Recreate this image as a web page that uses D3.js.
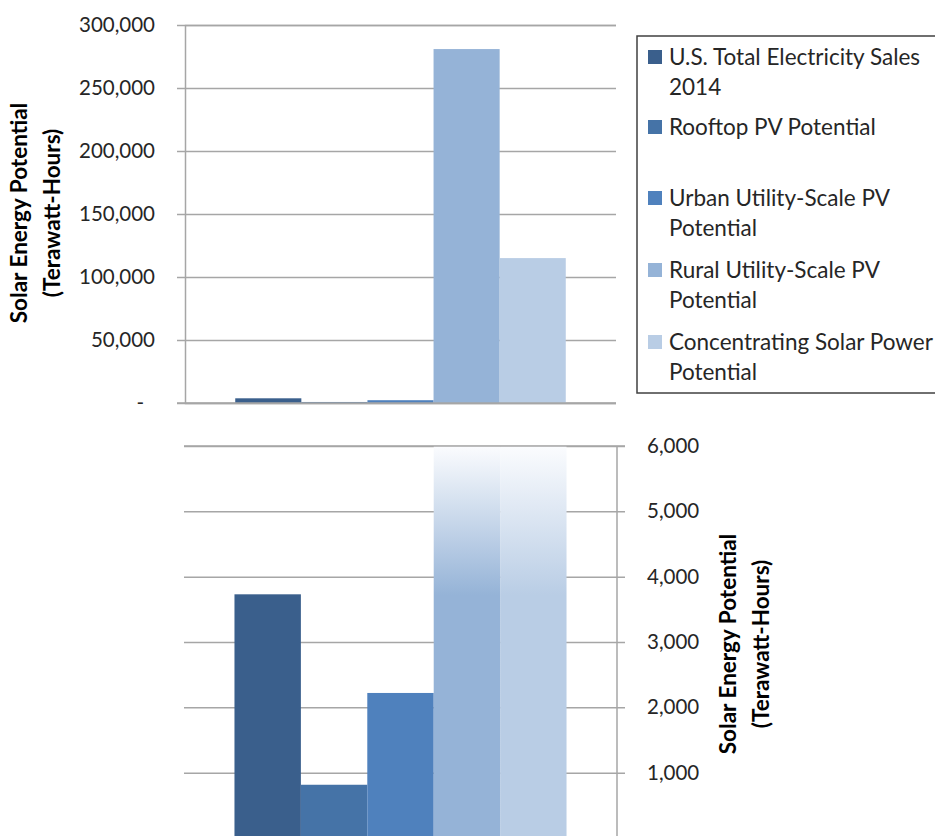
<!DOCTYPE html>
<html>
<head>
<meta charset="utf-8">
<script src="https://cdn.jsdelivr.net/npm/d3@7"></script>
<style>
  body { margin: 0; background: #fff; }
  svg { display: block; font-family: Lato, "Open Sans", sans-serif; }
</style>
</head>
<body>
<svg id="chart" width="935" height="836"></svg>
<script>
// data (terawatt-hours)
var categories = ["U.S. Total Electricity Sales 2014", "Rooftop PV Potential",
    "Urban Utility-Scale PV Potential", "Rural Utility-Scale PV Potential",
    "Concentrating Solar Power Potential"];
var values = [3730, 815, 2220, 280900, 115000];
var colors = ["#3a5f8c", "#4573a7", "#4f81bd", "#95b3d7", "#b9cde5"];
var legendLines = [["U.S. Total Electricity Sales", "2014"], ["Rooftop PV Potential"],
    ["Urban Utility-Scale PV", "Potential"], ["Rural Utility-Scale PV", "Potential"],
    ["Concentrating Solar Power", "Potential"]];
var topTicks = [0, 50000, 100000, 150000, 200000, 250000, 300000];
var bottomTicks = [1000, 2000, 3000, 4000, 5000, 6000];

var svg = d3.select("#chart");
var grid = "#a6a6a6";
var txt = "#262626";

// ---------- top chart (full scale) ----------
var top1 = {left: 185, right: 616, top: 25, bottom: 403};

var x1 = d3.scaleBand()
    .domain(d3.range(categories.length))
    .range([top1.left, top1.right])
    .paddingOuter(0.76).paddingInner(0);

var y1 = d3.scaleLinear()
    .domain([0, 300000])
    .range([top1.bottom, top1.top]);

var g1 = svg.append("g");

g1.append("g")
    .attr("transform", "translate(" + top1.left + ",0)")
    .call(d3.axisLeft(y1).tickValues(topTicks)
        .tickSize(-(top1.right - top1.left))
        .tickFormat(function(d) { return d === 0 ? "-" : d3.format(",")(d); }))
    .call(function(a) {
        a.select(".domain").attr("stroke", grid).attr("stroke-width", 1.5);
        a.selectAll(".tick line").attr("stroke", grid).attr("stroke-width", 1.5).attr("x1", -8);
        a.selectAll(".tick text").attr("x", -30).attr("fill", txt)
            .style("font-size", "20.5px").style("font-family", "Lato");
        a.selectAll(".tick text").filter(function(d) { return d === 0; }).attr("x", -41);
    });

g1.selectAll(".bar1")
    .data(values)
    .enter().append("rect")
    .attr("x", function(d, i) { return x1(i); })
    .attr("width", x1.bandwidth())
    .attr("y", function(d) { return y1(d); })
    .attr("height", function(d) { return top1.bottom - y1(d); })
    .attr("fill", function(d, i) { return colors[i]; });

// baseline over the bars
g1.append("line")
    .attr("x1", top1.left - 8).attr("x2", top1.right)
    .attr("y1", top1.bottom).attr("y2", top1.bottom)
    .attr("stroke", grid).attr("stroke-width", 1.5);

g1.append("text")
    .attr("transform", "translate(27," + 213 + ") rotate(-90)")
    .attr("text-anchor", "middle").attr("fill", "#000")
    .style("font-size", "22.5px").style("font-weight", "bold")
    .selectAll("tspan")
    .data(["Solar Energy Potential", "(Terawatt-Hours)"])
    .enter().append("tspan")
    .attr("x", 0).attr("dy", function(d, i) { return i ? 33 : 0; })
    .text(function(d) { return d; });

// ---------- bottom chart (zoomed) ----------
var bot = {left: 184, right: 617, top: 446, bottom: 838};

var x2 = d3.scaleBand()
    .domain(d3.range(categories.length))
    .range([bot.left, bot.right])
    .paddingOuter(0.76).paddingInner(0);

var y2 = d3.scaleLinear()
    .domain([0, 6000])
    .range([bot.bottom, bot.top]);

var defs = svg.append("defs");
colors.forEach(function(c, i) {
    var gr = defs.append("linearGradient")
        .attr("id", "fade" + i)
        .attr("gradientUnits", "userSpaceOnUse")
        .attr("x1", 0).attr("x2", 0)
        .attr("y1", bot.top).attr("y2", 595);
    gr.append("stop").attr("offset", 0).attr("stop-color", "#fbfcfe");
    gr.append("stop").attr("offset", 1).attr("stop-color", c);
});

var g2 = svg.append("g");

g2.append("g")
    .attr("transform", "translate(" + bot.right + ",0)")
    .call(d3.axisRight(y2).tickValues(bottomTicks)
        .tickSize(-(bot.right - bot.left))
        .tickFormat(d3.format(",")))
    .call(function(a) {
        a.select(".domain").remove();
        a.selectAll(".tick line").attr("stroke", grid).attr("stroke-width", 1.5).attr("x1", 8);
        a.selectAll(".tick text").attr("x", 30).attr("fill", txt)
            .style("font-size", "20.5px").style("font-family", "Lato");
    });

g2.selectAll(".bar2")
    .data(values)
    .enter().append("rect")
    .attr("x", function(d, i) { return x2(i); })
    .attr("width", x2.bandwidth())
    .attr("y", function(d) { return y2(Math.min(d, 6000)); })
    .attr("height", function(d) { return bot.bottom - y2(Math.min(d, 6000)); })
    .attr("fill", function(d, i) { return d > 6000 ? "url(#fade" + i + ")" : colors[i]; });

// top line and right axis
g2.append("line")
    .attr("x1", bot.left).attr("x2", bot.right + 8)
    .attr("y1", bot.top).attr("y2", bot.top)
    .attr("stroke", grid).attr("stroke-width", 1.5);
g2.append("line")
    .attr("x1", bot.right).attr("x2", bot.right)
    .attr("y1", bot.top).attr("y2", bot.bottom)
    .attr("stroke", grid).attr("stroke-width", 1.5);

g2.append("text")
    .attr("transform", "translate(736," + 644 + ") rotate(-90)")
    .attr("text-anchor", "middle").attr("fill", "#000")
    .style("font-size", "22.5px").style("font-weight", "bold")
    .selectAll("tspan")
    .data(["Solar Energy Potential", "(Terawatt-Hours)"])
    .enter().append("tspan")
    .attr("x", 0).attr("dy", function(d, i) { return i ? 33 : 0; })
    .text(function(d) { return d; });

// ---------- legend ----------
var leg = svg.append("g");
leg.append("rect")
    .attr("x", 637).attr("y", 36).attr("width", 310).attr("height", 357)
    .attr("fill", "#fff").attr("stroke", "#404040").attr("stroke-width", 1.5);

var legY = [57, 127, 198, 270, 342];
var items = leg.selectAll(".item")
    .data(categories)
    .enter().append("g")
    .attr("transform", function(d, i) { return "translate(648," + legY[i] + ")"; });

items.append("rect")
    .attr("x", 0).attr("y", -7).attr("width", 14).attr("height", 14)
    .attr("fill", function(d, i) { return colors[i]; });

items.append("text")
    .attr("fill", txt)
    .style("font-size", "22.5px")
    .selectAll("tspan")
    .data(function(d, i) { return legendLines[i]; })
    .enter().append("tspan")
    .attr("x", 21).attr("y", function(d, j) { return j * 30; })
    .attr("dy", "0.35em")
    .text(function(d) { return d; });
</script>
</body>
</html>
